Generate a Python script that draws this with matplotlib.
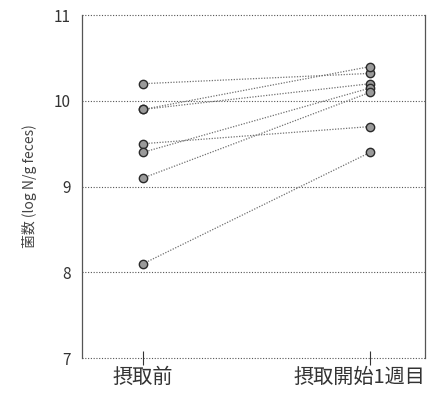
import matplotlib.pyplot as plt
import matplotlib.transforms as mtransforms

plt.rcParams['font.family'] = ['Noto Sans CJK JP', 'DejaVu Sans']

# --- data ---
groups = ["摂取前", "摂取開始1週目"]
before = [10.2, 9.9, 9.9, 9.5, 9.4, 9.1, 8.1]
after = [10.32, 10.4, 10.2, 9.7, 10.15, 10.1, 9.4]
y_ticks = [7, 8, 9, 10, 11]

fig = plt.figure(figsize=(4.30, 3.97), dpi=100)
ax = fig.add_axes([0.19, 0.098, 0.798, 0.864])

# paired lines first, then markers on top
for b, a in zip(before, after):
    ax.plot([0, 1], [b, a], color="#707070", linestyle=(0, (1, 1.2)), linewidth=0.9, zorder=2)
ax.scatter([0] * len(before), before, s=36, facecolor="#9a9a9a", edgecolor="#2a2a2a",
           linewidth=1.0, zorder=3)
ax.scatter([1] * len(after), after, s=36, facecolor="#9a9a9a", edgecolor="#2a2a2a",
           linewidth=1.0, zorder=3)

ax.set_xlim(-0.27, 1.24)
ax.set_ylim(7, 11)
ax.set_yticks(y_ticks)
ax.set_xticks([0, 1])
ax.set_xticklabels(groups, fontsize=14.5)
ax.tick_params(axis="y", labelsize=11, length=0, pad=8, colors="#333333")
ax.tick_params(axis="x", direction="inout", length=10, width=0.8, pad=1, colors="#333333")

# second label sits left of centre in the original, ending at the right edge
lbl = ax.get_xticklabels()[1]
lbl.set_horizontalalignment("right")
lbl.set_transform(lbl.get_transform() + mtransforms.ScaledTranslation(0.55, 0, fig.dpi_scale_trans))

# dotted horizontal grid incl. top and bottom edges
for v in y_ticks:
    ax.axhline(v, color="#555555", linestyle=(0, (1, 1.5)), linewidth=0.8, zorder=1, clip_on=False)

for side in ["top", "bottom"]:
    ax.spines[side].set_visible(False)
for side in ["left", "right"]:
    ax.spines[side].set_color("#555555")
    ax.spines[side].set_linewidth(0.9)

ax.set_ylabel("菌数 (log N/g feces)", fontsize=10, color="#444444", labelpad=12)

fig.savefig("out.png")
